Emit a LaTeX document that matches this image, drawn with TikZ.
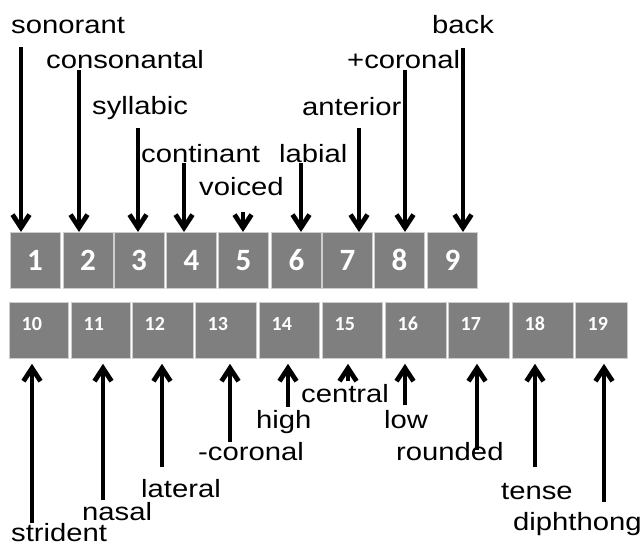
\documentclass[tikz,border=0pt]{standalone}
\usepackage{graphicx}
\usepackage{fontspec}
\setmainfont{Liberation Sans}
\newfontfamily\numfont{Carlito}
\usetikzlibrary{arrows.meta,calc}

% feature names are set slightly wide
\newcommand\featname[1]{\scalebox{1.17}[1]{#1}}

\definecolor{cellgray}{RGB}{127,127,127}
\definecolor{celledge}{RGB}{205,205,205}

\tikzset{
  cell/.style={fill=cellgray, draw=celledge, line width=0.8pt, inner sep=0pt,
               anchor=north west, minimum height=56pt},
  bignum/.style={text=white, font=\numfont\bfseries\fontsize{31}{31}\selectfont},
  smallnum/.style={text=white, font=\numfont\bfseries\fontsize{20}{20}\selectfont,
               inner sep=0pt, anchor=base west},
  feat/.style={font=\fontsize{25}{30}\selectfont, inner sep=0pt, anchor=base west},
  arr/.style={line width=4.8pt, -{Straight Barb[length=13pt, width=17pt]}},
}

\begin{document}
\begin{tikzpicture}[x=1pt, y=-1pt]
\useasboundingbox (0,0) rectangle (643,546);

% upper row of cells, 1-9
\foreach \i/\l in {1/9.5, 2/62.5, 3/113.5, 4/166, 5/218, 6/271, 7/322, 8/374, 9/427}
  \node[cell, bignum, minimum width=50pt] (b\i) at (\l,232) {\i};

% lower row of cells, 10-19
\foreach \i/\l/\r in {10/9/68, 11/71/130, 12/132/193, 13/195/256, 14/259/319,
                      15/322/382, 16/385/446, 17/448/509, 18/512/573, 19/575/627}
{
  \node[cell, minimum width={(\r-\l)*1pt}] (b\i) at (\l,302) {};
  \node[smallnum] (n\i) at (\l+12.5,330) {\i};
}

% feature labels above
\node[feat] (f1) at (11,33)   {\featname{sonorant}};
\node[feat] (f2) at (46,68)   {\featname{consonantal}};
\node[feat] (f3) at (92,114)  {\featname{syllabic}};
\node[feat] (f4) at (141,162) {\featname{continant}};
\node[feat] (f5) at (199,195) {\featname{voiced}};
\node[feat] (f6) at (279,162) {\featname{labial}};
\node[feat] (f7) at (302,115) {\featname{anterior}};
\node[feat] (f8) at (347,68)  {\featname{+coronal}};
\node[feat] (f9) at (432,33)  {\featname{back}};

% feature labels below
\node[feat] (f10) at (11,541)  {\featname{strident}};
\node[feat] (f11) at (82,520)  {\featname{nasal}};
\node[feat] (f12) at (141,497) {\featname{lateral}};
\node[feat] (f13) at (198,460) {\featname{-coronal}};
\node[feat] (f14) at (256,428) {\featname{high}};
\node[feat] (f15) at (301,402) {\featname{central}};
\node[feat] (f16) at (384,428) {\featname{low}};
\node[feat] (f17) at (396,460) {\featname{rounded}};
\node[feat] (f18) at (501,499) {\featname{tense}};
\node[feat] (f19) at (513,530) {\featname{diphthong}};

% arrows down onto the upper cells
\foreach \i/\x/\y in {1/21/47, 2/79/70, 3/138/128, 4/184/163, 5/243/212,
                      6/301/163, 7/359/128, 8/405/70, 9/463/48}
{
  \coordinate (t\i) at (\x,\y);
  \draw[arr] (t\i) -- (t\i |- b\i.north);
}

% arrows up onto the lower cells
\foreach \i/\x/\y in {10/32/523, 11/103/500, 12/162/467, 13/230/442, 14/288/407,
                      15/348/381, 16/405/405, 17/477/450, 18/535/467, 19/604/502}
{
  \coordinate (t\i) at (\x,\y);
  \coordinate (h\i) at ($(t\i |- b\i.south)+(0,5)$);
  \draw[arr] (t\i) -- (h\i);
}
\end{tikzpicture}
\end{document}
